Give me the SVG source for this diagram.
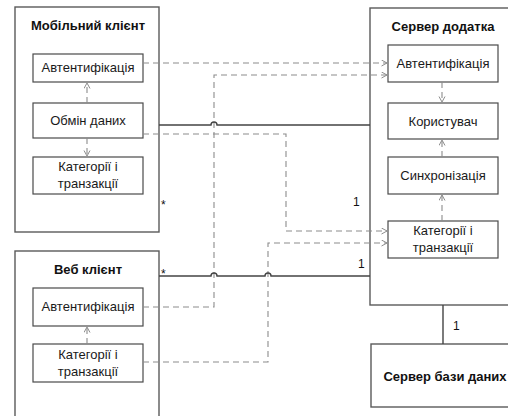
<svg xmlns="http://www.w3.org/2000/svg" width="508" height="416" viewBox="0 0 508 416">
<defs>
<style>
.outer{fill:#fff;stroke:#5a5a5a;stroke-width:1.4}
.inner{fill:#fff;stroke:#4a4a4a;stroke-width:1.2}
.t{font-family:"Liberation Sans",Arial,sans-serif;font-size:13px;fill:#1a1a1a;text-anchor:middle}
.b{font-family:"Liberation Sans",Arial,sans-serif;font-size:13px;font-weight:bold;fill:#111;text-anchor:middle}
.lab{font-family:"Liberation Sans",Arial,sans-serif;font-size:12px;fill:#111}
.dash{fill:none;stroke:#8c8c8c;stroke-width:1.1;stroke-dasharray:6,4}
.solid{fill:none;stroke:#444;stroke-width:1.4}
</style>
<marker id="ah" markerWidth="8" markerHeight="8" refX="6" refY="3.5" orient="auto" markerUnits="userSpaceOnUse">
<path d="M0.5,0.5 L6,3.5 L0.5,6.5" fill="none" stroke="#8c8c8c" stroke-width="1"/>
</marker>
</defs>
<rect width="508" height="416" fill="#fff"/>

<g id="mobile-client">
<rect class="outer" x="15" y="7" width="144" height="225"/>
<text class="b" x="88" y="30">Мобільний клієнт</text>
</g>
<g id="m-auth">
<rect class="inner" x="33" y="54" width="110" height="28"/>
<text class="t" x="88" y="72">Автентифікація</text>
</g>
<g id="m-exchange">
<rect class="inner" x="33" y="103" width="110" height="35"/>
<text class="t" x="88" y="125">Обмін даних</text>
</g>
<g id="m-cat">
<rect class="inner" x="33" y="157" width="110" height="37"/>
<text class="t" x="88" y="171">Категорії і</text>
<text class="t" x="88" y="188">транзакції</text>
</g>

<g id="web-client">
<rect class="outer" x="15" y="251" width="144" height="175"/>
<text class="b" x="88" y="274">Веб клієнт</text>
</g>
<g id="w-auth">
<rect class="inner" x="33" y="288" width="110" height="38"/>
<text class="t" x="88" y="311">Автентифікація</text>
</g>
<g id="w-cat">
<rect class="inner" x="33" y="344" width="110" height="38"/>
<text class="t" x="88" y="359">Категорії і</text>
<text class="t" x="88" y="376">транзакції</text>
</g>

<g id="app-server">
<rect class="outer" x="370" y="8" width="150" height="297"/>
<text class="b" x="443" y="31">Сервер додатка</text>
</g>
<g id="s-auth">
<rect class="inner" x="388" y="45" width="110" height="37"/>
<text class="t" x="443" y="68">Автентифікація</text>
</g>
<g id="s-user">
<rect class="inner" x="388" y="103" width="110" height="36"/>
<text class="t" x="443" y="126">Користувач</text>
</g>
<g id="s-sync">
<rect class="inner" x="388" y="157" width="110" height="37"/>
<text class="t" x="443" y="180">Синхронізація</text>
</g>
<g id="s-cat">
<rect class="inner" x="388" y="221" width="110" height="37"/>
<text class="t" x="443" y="235">Категорії і</text>
<text class="t" x="443" y="252">транзакції</text>
</g>

<g id="db-server">
<rect class="outer" x="371" y="344" width="150" height="63"/>
<text class="b" x="445" y="381">Сервер бази даних</text>
</g>

<g id="connectors">
<path class="dash" d="M87,103 V83" marker-end="url(#ah)"/>
<path class="dash" d="M87,138 V156" marker-end="url(#ah)"/>
<path class="dash" d="M87,344 V327" marker-end="url(#ah)"/>
<path class="dash" d="M442,82 V102" marker-end="url(#ah)"/>
<path class="dash" d="M442,157 V140" marker-end="url(#ah)"/>
<path class="dash" d="M442,221 V195" marker-end="url(#ah)"/>
<path class="dash" d="M143,63 H387" marker-end="url(#ah)"/>
<path class="dash" d="M143,134 H286 V231 H387" marker-end="url(#ah)"/>
<path class="dash" d="M143,307 H214 V75 H387" marker-end="url(#ah)"/>
<path class="dash" d="M143,362 H268 V243 H387" marker-end="url(#ah)"/>
<path class="solid" d="M159,125 H211 A3,3 0 0 1 217,125 H370"/>
<path class="solid" d="M159,276 H211 A3,3 0 0 1 217,276 H265 A3,3 0 0 1 271,276 H370"/>
<path class="solid" d="M443,305 V344"/>
<text class="lab" x="161" y="209">*</text>
<text class="lab" x="353" y="206">1</text>
<text class="lab" x="161" y="278">*</text>
<text class="lab" x="358" y="268">1</text>
<text class="lab" x="453" y="330">1</text>
</g>
</svg>
